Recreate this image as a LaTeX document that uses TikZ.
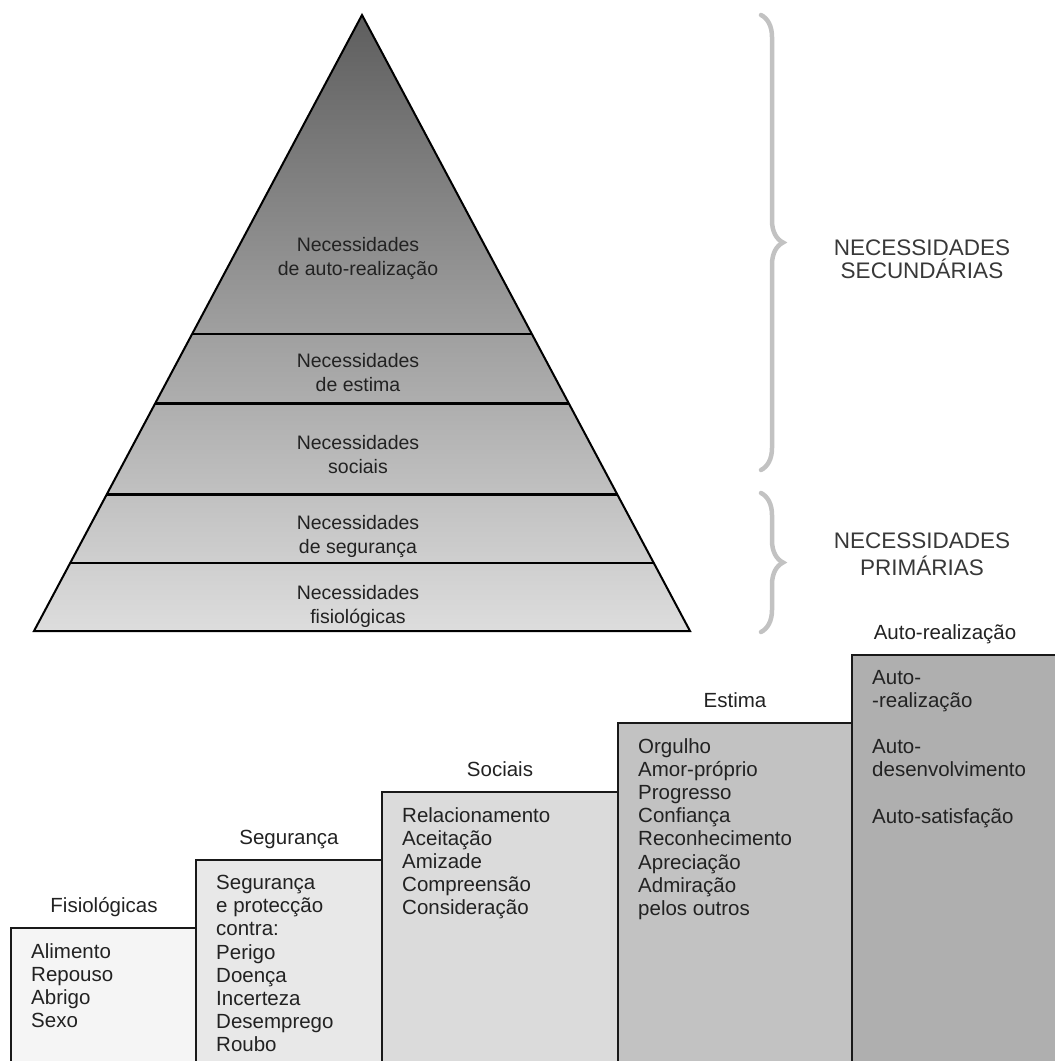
\documentclass[tikz,border=0pt]{standalone}
\usepackage{fontspec}
\setmainfont{Liberation Sans}
\usepackage{tikz}
\usetikzlibrary{calc, positioning, decorations.pathreplacing}
\definecolor{inktext}{HTML}{222222}
\definecolor{pyrtop}{HTML}{5E5E5E}
\definecolor{pyrbase}{HTML}{DDDDDD}
\definecolor{bracegray}{HTML}{C2C2C2}
\definecolor{stepone}{HTML}{F5F5F5}
\definecolor{steptwo}{HTML}{E8E8E8}
\definecolor{stepthree}{HTML}{DBDBDB}
\definecolor{stepfour}{HTML}{C2C2C2}
\definecolor{stepfive}{HTML}{AFAFAF}

\begin{document}
\begin{tikzpicture}[x=1pt, y=-1pt,
    every node/.style={text=inktext, font=\fontsize{20.5}{23.2}\selectfont},
    layer/.style={align=center, inner sep=0pt, font=\fontsize{19.5}{24}\selectfont},
    level/.style={line width=2.5pt, draw=black},
    curly/.style={decorate, decoration={brace, amplitude=22pt}, line width=4.5pt, draw=bracegray, line cap=round},
    group/.style={align=center, inner sep=0pt, font=\fontsize{22.5}{23}\selectfont, text=black!78},
    stair/.style={fill=#1, draw=black!90, line width=2.5pt},
    steplabel/.style={anchor=base, inner sep=0pt},
    steplist/.style={align=left, inner sep=0pt}
]
\useasboundingbox (0,0) rectangle (1055,1061);

\coordinate (apex) at (362,15);
\coordinate (bl) at (34,631);
\coordinate (br) at (690,631);
\shade[top color=pyrtop, bottom color=pyrbase] (apex) -- (bl) -- (br) -- cycle;
\foreach \t in {0.518,0.631,0.778,0.890}
  \draw[level] ($(apex)!\t!(bl)$) -- ($(apex)!\t!(br)$);
\draw[line width=2pt] (apex) -- (bl) -- (br) -- cycle;

\node[layer] (selfneed) at (358,258) {Necessidades\\de auto-realização};
\node[layer] (esteemneed) at (358,373) {Necessidades\\de estima};
\node[layer] (socialneed) at (358,455) {Necessidades\\sociais};
\node[layer] (safetyneed) at (358,536) {Necessidades\\de segurança};
\node[layer] (bodyneed) at (358,606) {Necessidades\\fisiológicas};

\coordinate (upA) at (761,15);
\coordinate (upB) at (761,470);
\coordinate (loA) at (761,493);
\coordinate (loB) at (761,632);
\draw[curly] (upA) -- (upB);
\draw[curly] (loA) -- (loB);
\node[group] (secondary) at (922,259) {NECESSIDADES\\SECUNDÁRIAS};
\node[group] (primary) at (922,554) {NECESSIDADES\\[4pt]PRIMÁRIAS};

\filldraw[stair=stepone] (11,1075) |- (196,928) -- (196,1075);
\filldraw[stair=steptwo] (196,1075) |- (382,860) -- (382,1075);
\filldraw[stair=stepthree] (382,1075) |- (618,792) -- (618,1075);
\filldraw[stair=stepfour] (618,1075) |- (852,723) -- (852,1075);
\filldraw[stair=stepfive] (852,1075) |- (1075,655) -- (1075,1075);

\coordinate (fisio) at (11,928);
\coordinate (seg) at (196,860);
\coordinate (soc) at (382,792);
\coordinate (est) at (618,723);
\coordinate (auto) at (852,655);

\node[steplabel] (fisiolabel) at (104,912) {Fisiológicas};
\node[steplabel] (seglabel) at (289,844) {Segurança};
\node[steplabel] (soclabel) at (500,776) {Sociais};
\node[steplabel] (estlabel) at (735,707) {Estima};
\node[steplabel] (autolabel) at (945,639) {Auto-realização};

\node[steplist, below right=15pt and 20pt of fisio] (fisiolist) {Alimento\\Repouso\\Abrigo\\Sexo};
\node[steplist, below right=15pt and 20pt of seg] (seglist) {Segurança\\e protecção\\contra:\\Perigo\\Doença\\Incerteza\\Desemprego\\Roubo};
\node[steplist, below right=15pt and 20pt of soc] (soclist) {Relacionamento\\Aceitação\\Amizade\\Compreensão\\Consideração};
\node[steplist, below right=15pt and 20pt of est] (estlist) {Orgulho\\Amor-próprio\\Progresso\\Confiança\\Reconhecimento\\Apreciação\\Admiração\\pelos outros};
\node[steplist, below right=15pt and 20pt of auto] (autolist) {Auto-\\-realização\\[23pt]Auto-\\desenvolvimento\\[23pt]Auto-satisfação};
\end{tikzpicture}
\end{document}
